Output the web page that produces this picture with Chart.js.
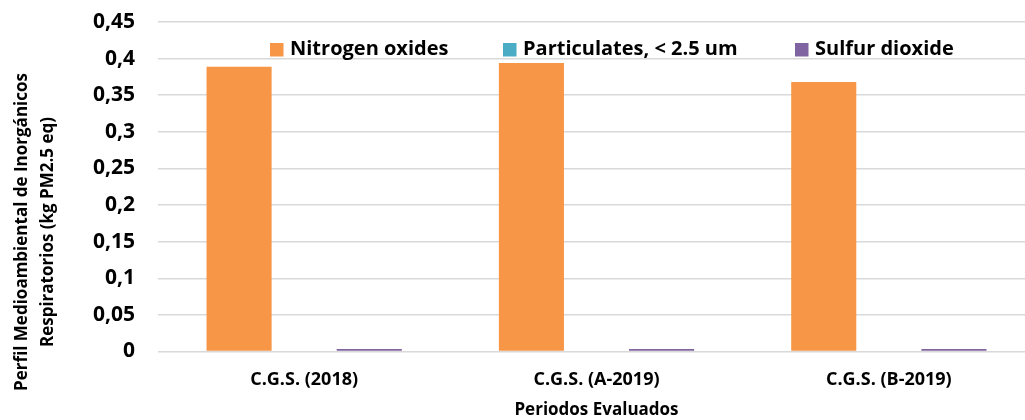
<!DOCTYPE html>
<html><head><meta charset="utf-8">
<script src="https://cdn.jsdelivr.net/npm/chart.js@4.4.1/dist/chart.umd.min.js"></script>
<style>
html,body{margin:0;padding:0;background:#fff;overflow:hidden}
#wrap{width:1025px;height:420px;overflow:hidden;position:relative}
canvas{display:block}
</style></head>
<body><div id="wrap"><canvas id="c" width="1040" height="420"></canvas></div>
<script>
const categories = ['C.G.S. (2018)', 'C.G.S. (A-2019)', 'C.G.S. (B-2019)'];
const seriesNames = ['Nitrogen oxides', 'Particulates, < 2.5 um', 'Sulfur dioxide'];
const nitrogenOxides = [0.389, 0.394, 0.368];
const particulates = [0, 0, 0];
const sulfurDioxide = [0.0035, 0.0035, 0.0035];
const yTickLabels = ['0', '0,05', '0,1', '0,15', '0,2', '0,25', '0,3', '0,35', '0,4', '0,45'];
const yTitleLines = ['Perfil Medioambiental de Inorgánicos', 'Respiratorios (kg PM2.5 eq)'];
const xTitle = 'Periodos Evaluados';
const seriesColors = ['#F79646', '#4BACC6', '#8064A2'];

const FONT = '"Open Sans"';
const legendStarts = [270, 503, 795];

const customLegend = {
  id: 'customLegend',
  afterDraw(chart) {
    const ctx = chart.ctx;
    ctx.save();
    ctx.font = 'bold 20px ' + FONT;
    ctx.textBaseline = 'middle';
    ctx.textAlign = 'left';
    const y = 49.5;
    chart.data.datasets.forEach((ds, i) => {
      const x = legendStarts[i];
      ctx.fillStyle = ds.backgroundColor;
      ctx.fillRect(x, y - 6.5, 13.5, 13.5);
      ctx.fillStyle = '#000';
      ctx.fillText(ds.label, x + 20, y);
    });
    ctx.restore();
  }
};

const yTitlePlugin = {
  id: 'yTitle',
  afterDraw(chart) {
    const ctx = chart.ctx;
    ctx.save();
    ctx.font = 'bold 17px ' + FONT;
    ctx.fillStyle = '#000';
    ctx.textAlign = 'center';
    ctx.textBaseline = 'middle';
    const cy = 232;
    const xs = [22, 48];
    yTitleLines.forEach((t, i) => {
      ctx.save();
      ctx.translate(xs[i], cy);
      ctx.rotate(-Math.PI / 2);
      ctx.fillText(t, 0, 0);
      ctx.restore();
    });
    ctx.restore();
  }
};

new Chart(document.getElementById('c'), {
  type: 'bar',
  data: {
    labels: categories,
    datasets: [
      { label: seriesNames[0], data: nitrogenOxides, backgroundColor: seriesColors[0] },
      { label: seriesNames[1], data: particulates, backgroundColor: seriesColors[1] },
      { label: seriesNames[2], data: sulfurDioxide, backgroundColor: seriesColors[2] }
    ]
  },
  options: {
    responsive: false,
    animation: false,
    devicePixelRatio: 1,
    layout: { padding: { top: 22, right: 5, left: 0, bottom: 0 } },
    datasets: { bar: { categoryPercentage: 0.668, barPercentage: 1.0 } },
    plugins: {
      legend: { display: false },
      tooltip: { enabled: false }
    },
    scales: {
      x: {
        grid: { display: false, drawTicks: false },
        border: { display: false },
        ticks: { color: '#000', font: { family: FONT, weight: 'bold', size: 18 }, padding: 18, maxRotation: 0, minRotation: 0, autoSkip: false },
        title: { display: true, text: xTitle, color: '#000', font: { family: FONT, weight: 'bold', size: 17 }, padding: { top: -9.5, bottom: 0 } }
      },
      y: {
        min: 0, max: 0.45,
        afterFit(scale) { scale.width = 158; scale.paddingTop = 0; scale.paddingBottom = 0; },
        grid: { color: '#D9D9D9', lineWidth: 1.5, drawTicks: false },
        border: { display: false },
        ticks: {
          stepSize: 0.05,
          padding: 23,
          color: '#000',
          font: { family: FONT, weight: 'bold', size: 21 },
          callback: (v, i) => yTickLabels[i]
        }
      }
    }
  },
  plugins: [customLegend, yTitlePlugin]
});
</script>
</body></html>
